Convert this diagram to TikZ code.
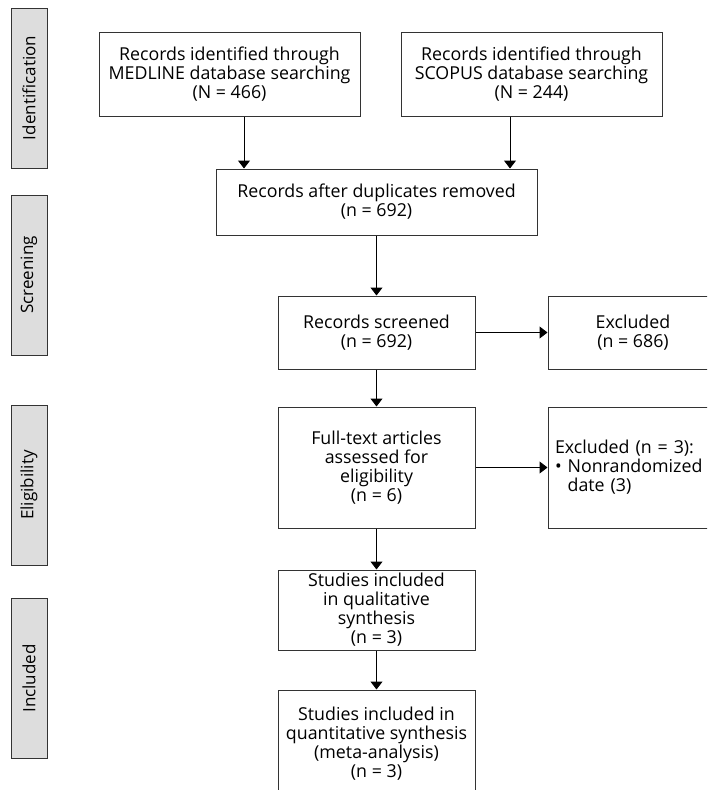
\documentclass[tikz,border=0pt]{standalone}
\usepackage{fontspec}
\setmainfont{Open Sans}
\usetikzlibrary{arrows.meta,positioning}
\definecolor{barra}{HTML}{DDDDDD}
\definecolor{borde}{HTML}{333333}

\begin{document}
\begin{tikzpicture}[x=1pt,y=-1pt,
    >={Triangle[length=8pt,width=12pt]},
    box/.style={draw=borde,line width=1pt,align=center,inner sep=2pt,
                font=\fontsize{17.8}{19}\selectfont,minimum width=197pt},
    stage/.style={draw=borde,fill=barra,line width=1pt,rotate=90,
                  minimum width=160pt,minimum height=36pt,inner sep=0pt,
                  font=\fontsize{17}{19}\selectfont},
    arr/.style={->,black,line width=1pt}]
  \useasboundingbox (0,0) rectangle (707,790);
  \clip (0,0) rectangle (707,790);
  \node[stage] (ident) at (29,88) {Identification};
  \node[stage] (screen) at (29,275) {Screening};
  \node[stage] (elig) at (29,485) {Eligibility};
  \node[stage] (incl) at (29,678.5) {Included};
  \node[box,minimum width=261pt,minimum height=84pt] (medline) at (229.5,74)
    {Records identified through\\MEDLINE database searching\\(N = 466)};
  \node[box,minimum width=261pt,minimum height=84pt,right=40pt of medline] (scopus)
    {Records identified through\\SCOPUS database searching\\(N = 244)};
  \node[box,minimum width=321pt,minimum height=66pt] (dupl) at (376.5,202)
    {Records after duplicates removed\\(n = 692)};
  \node[box,minimum height=73pt,below=60pt of dupl] (screened)
    {Records screened\\(n = 692)};
  \node[box,minimum width=170pt,minimum height=73pt,right=72pt of screened] (excl)
    {Excluded\\(n = 686)};
  \node[box,below=37pt of screened,minimum height=121pt] (fulltext)
    {Full-text articles\\assessed for\\eligibility\\(n = 6)};
  \node[box,align=left,minimum width=0pt,text width=155pt,inner xsep=7pt,
        minimum height=121pt,right=72pt of fulltext] (exclft)
    {Excluded (n = 3):\\\textbullet\ Nonrandomized\\\hphantom{\textbullet\ }date (3)};
  \node[box,minimum height=80pt,below=41pt of fulltext] (qual)
    {Studies included\\in qualitative\\synthesis\\(n = 3)};
  \node[box,minimum height=108pt,below=39pt of qual] (quant)
    {Studies included in\\quantitative synthesis\\(meta-analysis)\\(n = 3)};
  \draw[arr] ([xshift=14.5pt]medline.south) -- ([xshift=14.5pt]medline.south |- dupl.north);
  \draw[arr] ([xshift=-21.5pt]scopus.south) -- ([xshift=-21.5pt]scopus.south |- dupl.north);
  \draw[arr] (dupl) -- (screened);
  \draw[arr] (screened) -- (excl);
  \draw[arr] (screened) -- (fulltext);
  \draw[arr] (fulltext) -- (exclft);
  \draw[arr] (fulltext) -- (qual);
  \draw[arr] (qual) -- (quant);
\end{tikzpicture}
\end{document}
